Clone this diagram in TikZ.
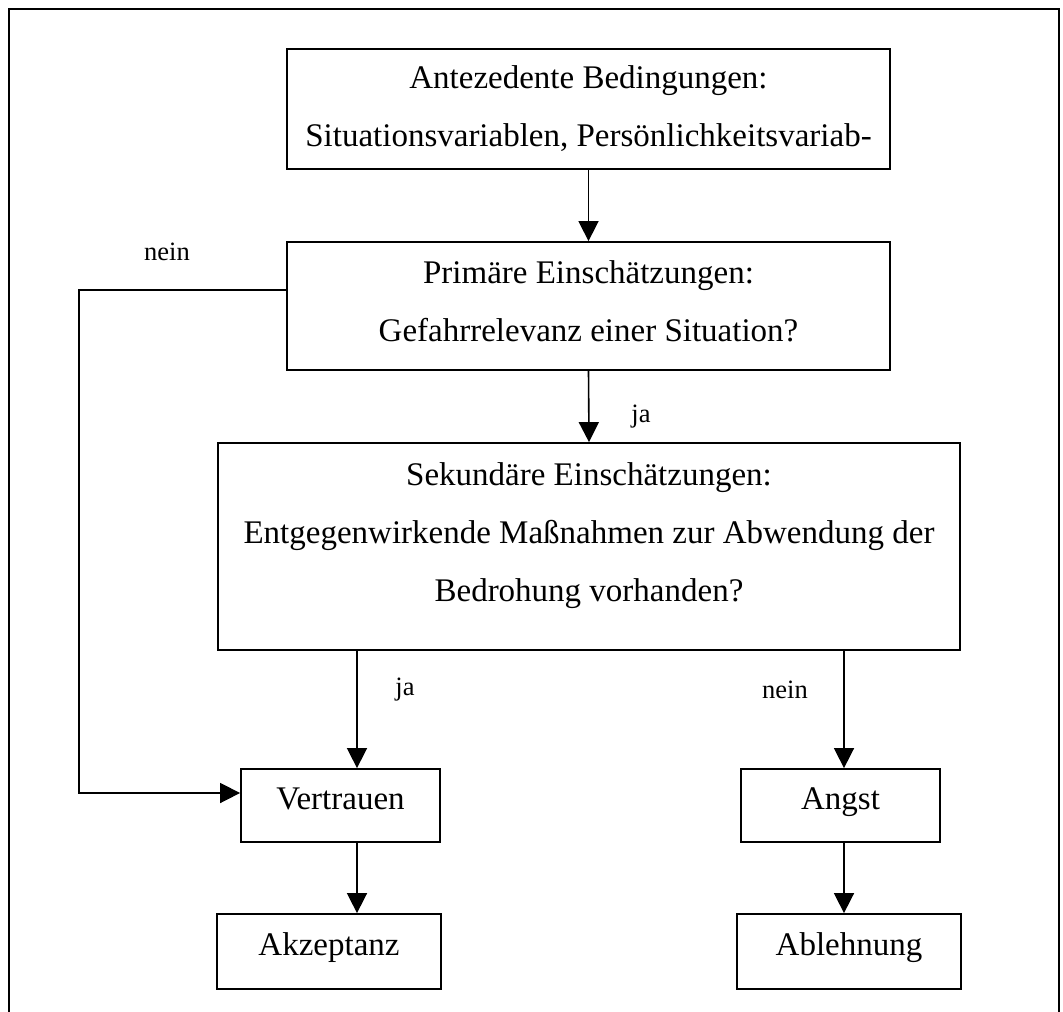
\documentclass[tikz,border=0pt]{standalone}
\usepackage{fontspec}
\setmainfont{Liberation Serif}
\usetikzlibrary{arrows.meta}
\begin{document}
\begin{tikzpicture}[x=1pt,y=-1pt,
  box/.style={draw,line width=1.8pt,inner sep=0pt,
    text height=22pt,text depth=14pt,font=\fontsize{33}{58}\selectfont},
  boxtext/.style={inner sep=0pt,align=center,font=\fontsize{33}{58}\selectfont},
  lbl/.style={inner sep=0pt,font=\fontsize{26.5}{30}\selectfont},
  arr/.style={line width=1.6pt,-{Triangle[width=20pt,length=20pt]}}]
\useasboundingbox (0,0) rectangle (1063,1012);
% open page frame
\draw[line width=2.5pt] (9,1012) -- (9,9) -- (1059,9) -- (1059,1012);
% large boxes; their text blocks are placed as separate nodes
\node[box,minimum width=603,minimum height=120] (b1) at (588.5,109) {};
\node[boxtext] (b1t) at (588.5,108.5)
  {Antezedente Bedingungen:\\Situationsvariablen, Persönlichkeitsvariab-};
\node[box,minimum width=603,minimum height=128] (b2) at (588.5,306) {};
\node[boxtext] (b2t) at (588.5,301)
  {Primäre Einschätzungen:\\Gefahrrelevanz einer Situation?};
\node[box,minimum width=742,minimum height=207] (b3) at (589,546.5) {};
\node[boxtext] (b3t) at (589,536)
  {Sekundäre Einschätzungen:\\Entgegenwirkende Maßnahmen zur Abwendung der\\Bedrohung vorhanden?};
% outcome boxes
\node[box,minimum width=199,minimum height=73] (vt) at (340.5,805.5) {Vertrauen};
\node[box,minimum width=199,minimum height=73] (an) at (840.5,805.5) {Angst};
\node[box,minimum width=224,minimum height=75] (ak) at (329,951.5) {Akzeptanz};
\node[box,minimum width=224,minimum height=75] (ab) at (849,951.5) {Ablehnung};
% helper coordinates for off-centre connectors
\coordinate (vx) at (357,0);
\coordinate (ax) at (844,0);
\coordinate (nl) at (79,290);
\coordinate (nb) at (79,793);
% connectors
\draw[arr] (b1.south) -- (b2.north);
\draw[arr] (b2.south) -- (b3.north);
\draw[arr] (b3.south -| vx) -- (vt.north -| vx);
\draw[arr] (b3.south -| ax) -- (an.north -| ax);
\draw[arr] (vt.south -| vx) -- (ak.north -| vx);
\draw[arr] (an.south -| ax) -- (ab.north -| ax);
\draw[arr] (b2.west |- nl) -- (nl) -- (nb) -- (vt.west |- nb);
% labels
\node[lbl] (l1) at (167,252) {nein};
\node[lbl] (l2) at (641,417) {ja};
\node[lbl] (l3) at (405,690) {ja};
\node[lbl] (l4) at (785,690) {nein};
\end{tikzpicture}
\end{document}
